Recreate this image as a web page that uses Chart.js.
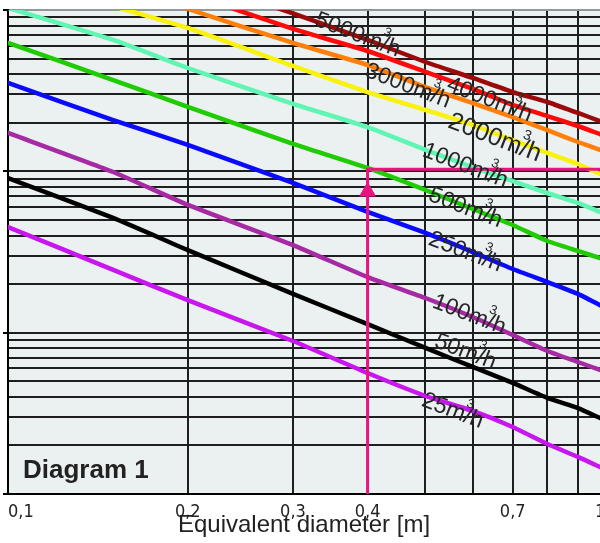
<!DOCTYPE html>
<html>
<head>
<meta charset="utf-8">
<title>Diagram 1</title>
<script src="https://cdn.jsdelivr.net/npm/chart.js@4.4.1/dist/chart.umd.min.js"></script>
<style>
  html, body { margin: 0; padding: 0; background: #fff; overflow: hidden; }
  #wrap { width: 600px; height: 543px; }
</style>
</head>
<body>
<div id="wrap"><canvas id="chart" width="600" height="543"></canvas></div>
<script>
/* Duct chart — flow lines over equivalent diameter (log/log) */
(function () {
  'use strict';

  var DIAMETERS = [0.1, 0.15, 0.2, 0.3, 0.4, 0.5, 0.6, 0.7, 0.8, 0.9, 0.98];

  var FLOW_5000 = [393.6, 232.3, 160.2, 95.2, 65.2, 47.6, 37.9, 31.0, 26.9, 23.0, 20.5];
  var FLOW_4000 = [304.5, 184.8, 127.5, 76.3, 55.7, 41.3, 32.4, 25.8, 22.0, 19.1, 17.0];
  var FLOW_3000 = [249.4, 151.3, 101.5, 62.5, 45.6, 33.3, 26.5, 21.7, 18.0, 15.2, 13.6];
  var FLOW_2000 = [174.5, 105.9, 77.4, 45.0, 31.0, 24.0, 19.4, 15.6, 13.0, 11.1, 9.63];
  var FLOW_1000 = [102.9, 65.2, 43.7, 26.2, 18.8, 13.6, 10.6, 8.71, 7.34, 6.37, 5.60];
  var FLOW_500 = [62.5, 36.8, 25.1, 14.8, 10.5, 7.66, 5.84, 4.65, 3.70, 3.21, 2.90];
  var FLOW_250 = [35.3, 20.8, 14.6, 8.47, 5.60, 4.15, 3.16, 2.48, 2.06, 1.74, 1.48];
  var FLOW_100 = [17.3, 9.91, 6.19, 3.49, 2.21, 1.64, 1.25, 0.967, 0.770, 0.658, 0.587];
  var FLOW_50 = [9.09, 5.14, 3.25, 1.74, 1.13, 0.804, 0.613, 0.488, 0.394, 0.341, 0.296];
  var FLOW_25 = [4.52, 2.45, 1.59, 0.888, 0.562, 0.405, 0.327, 0.260, 0.204, 0.170, 0.147];

  var FLOW_NAMES = ['5000', '4000', '3000', '2000', '1000', '500', '250', '100', '50', '25'];
  var FLOW_SERIES = [FLOW_5000, FLOW_4000, FLOW_3000, FLOW_2000, FLOW_1000, FLOW_500, FLOW_250, FLOW_100, FLOW_50, FLOW_25];

  /* where each "xxxm3/h" text sits, in chart units */
  var LABEL_D = [0.385, 0.640, 0.467, 0.653, 0.583, 0.583, 0.583, 0.592, 0.583, 0.555];
  var LABEL_V = [70.0, 27.7, 33.8, 16.1, 10.8, 5.93, 3.16, 1.29, 0.759, 0.327];

  var X_GRID = [0.1, 0.2, 0.3, 0.4, 0.5, 0.6, 0.7, 0.8, 0.9];
  var X_TICK_VALUES = [0.1, 0.2, 0.3, 0.4, 0.7, 1];
  var X_TICK_LABELS = ['0,1', '0,2', '0,3', '0,4', '0,7', '1'];
  var Y_DECADES = [0.1, 1, 10, 100];

  /* worked example: 0.4 m read across */
  var READ_D = 0.4;
  var READ_VALUE = 10.3;
  var ARROW_VALUE = 7.5;

  var COLORS = ['#9b0a0a', '#ff0a0a', '#ff7f0a', '#f8f20c', '#5ff5b2', '#1fcc00', '#0a0aff', '#a52aa3', '#000000', '#c916ee'];
  var PINK = '#e8147f';
  var GRID = '#1e1e1e';

  function yGrid() {
    var out = [];
    for (var d = 0; d < Y_DECADES.length - 1; d++) {
      for (var k = 1; k < 10; k++) out.push(+(Y_DECADES[d] * k).toPrecision(3));
    }
    out.push(Y_DECADES[Y_DECADES.length - 1]);
    return out;
  }

  function isDecade(v) {
    return Y_DECADES.some(function (d) { return Math.abs(d - v) < 1e-9; });
  }

  function points(series) {
    return DIAMETERS.map(function (d, i) { return { x: d, y: series[i] }; });
  }

  var datasets = [
    {
      data: [{ x: READ_D, y: ARROW_VALUE }],
      showLine: false,
      pointStyle: 'triangle',
      pointRadius: 9,
      backgroundColor: PINK,
      borderColor: PINK,
      borderWidth: 1
    },
    {
      data: [{ x: READ_D, y: 0.1 }, { x: READ_D, y: READ_VALUE }, { x: 1, y: READ_VALUE }],
      borderColor: PINK,
      borderWidth: 3,
      pointRadius: 0
    }
  ];
  FLOW_SERIES.forEach(function (s, i) {
    datasets.push({
      label: FLOW_NAMES[i] + 'm³/h',
      data: points(s),
      borderColor: COLORS[i],
      borderWidth: 4.5,
      pointRadius: 0,
      tension: 0.15,
      borderJoinStyle: 'round',
      borderCapStyle: 'round'
    });
  });

  var plotBackground = {
    id: 'plotBackground',
    beforeDraw: function (chart) {
      var a = chart.chartArea, ctx = chart.ctx;
      ctx.save();
      ctx.fillStyle = '#ebf1f1';
      ctx.fillRect(a.left, a.top, a.right - a.left, a.bottom - a.top);
      ctx.restore();
    }
  };

  function drawFlowLabel(ctx, x, y, name, size) {
    ctx.save();
    ctx.translate(x, y);
    ctx.rotate(21 * Math.PI / 180);
    ctx.font = size + 'px "Liberation Sans", Arial, sans-serif';
    ctx.fillStyle = '#262626';
    ctx.textBaseline = 'middle';
    var head = name + 'm', tail = '/h';
    var wHead = ctx.measureText(head).width;
    var wTail = ctx.measureText(tail).width;
    var x0 = -(wHead + wTail) / 2;
    ctx.fillText(head, x0, 0);
    ctx.fillText(tail, x0 + wHead, 0);
    ctx.font = Math.round(size * 0.55) + 'px "Liberation Sans", Arial, sans-serif';
    ctx.fillText('3', x0 + wHead - 2, -size * 0.55);
    ctx.restore();
  }

  var annotations = {
    id: 'annotations',
    afterDatasetsDraw: function (chart) {
      var ctx = chart.ctx, xs = chart.scales.x, ys = chart.scales.y, a = chart.chartArea;

      FLOW_NAMES.forEach(function (name, i) {
        drawFlowLabel(ctx, xs.getPixelForValue(LABEL_D[i]), ys.getPixelForValue(LABEL_V[i]), name, name === '2000' ? 25 : 23);
      });

      ctx.save();
      ctx.fillStyle = '#222';
      ctx.font = 'bold 26px "Liberation Sans", Arial, sans-serif';
      ctx.textBaseline = 'alphabetic';
      ctx.fillText('Diagram 1', a.left + 15, a.bottom - 16);
      ctx.restore();
    },
    afterDraw: function (chart) {
      var ctx = chart.ctx, xs = chart.scales.x, a = chart.chartArea;
      var last = X_TICK_VALUES.length - 1;
      ctx.save();
      ctx.fillStyle = '#222';
      ctx.font = '18px "Liberation Sans Narrow", "DejaVu Sans Condensed", sans-serif';
      ctx.textBaseline = 'top';
      X_TICK_VALUES.forEach(function (v, i) {
        ctx.textAlign = i === 0 ? 'left' : (i === last ? 'right' : 'center');
        ctx.fillText(X_TICK_LABELS[i], xs.getPixelForValue(v), a.bottom + 9);
      });
      ctx.font = '24px "Liberation Sans", Arial, sans-serif';
      ctx.textAlign = 'center';
      ctx.textBaseline = 'middle';
      ctx.fillText('Equivalent diameter [m]', (a.left + a.right) / 2, a.bottom + 31);
      ctx.restore();
    }
  };

  new Chart(document.getElementById('chart'), {
    type: 'line',
    data: { datasets: datasets },
    plugins: [plotBackground, annotations],
    options: {
      responsive: false,
      animation: false,
      devicePixelRatio: 1,
      layout: { autoPadding: false, padding: { left: 3, top: 10, right: 0, bottom: 49 } },
      plugins: { legend: { display: false }, tooltip: { enabled: false } },
      scales: {
        x: {
          type: 'logarithmic',
          min: 0.1,
          max: 0.98,
          afterBuildTicks: function (axis) {
            axis.ticks = X_GRID.map(function (v) { return { value: v }; });
          },
          ticks: { display: false },
          grid: { color: GRID, lineWidth: 2, drawTicks: false },
          border: { color: '#000', width: 2 }
        },
        y: {
          type: 'logarithmic',
          min: 0.1,
          max: 100,
          afterBuildTicks: function (axis) {
            axis.ticks = yGrid().map(function (v) { return { value: v }; });
          },
          ticks: { display: false },
          grid: {
            lineWidth: 2,
            tickLength: 5,
            color: function (c) { return c.tick && c.tick.value === 100 ? '#8e9a9a' : GRID; },
            tickColor: function (c) { return c.tick && isDecade(c.tick.value) ? '#000' : 'rgba(0,0,0,0)'; }
          },
          border: { color: '#000', width: 2 }
        }
      }
    }
  });
})();
</script>
</body>
</html>
